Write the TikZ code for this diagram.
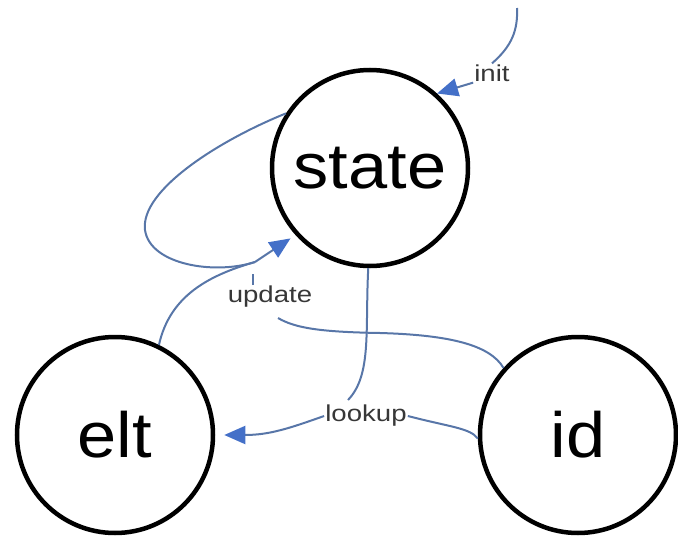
\documentclass[tikz,border=0pt]{standalone}
\usepackage{fontspec}
\setmainfont{Liberation Sans}
\newfontfamily\bigfont[FakeStretch=1.1]{Liberation Sans}
\newfontfamily\labfont[FakeStretch=1.2]{Liberation Sans}
\usetikzlibrary{arrows.meta}
\definecolor{edgecol}{RGB}{88,118,168}
\definecolor{tipcol}{RGB}{68,112,200}
\definecolor{labcol}{RGB}{55,55,55}
\tikzset{
  circ/.style={circle,draw=black,line width=4.5pt,minimum size=196pt,inner sep=0pt,font=\bigfont\fontsize{64}{64}\selectfont},
  edge/.style={draw=edgecol,line width=2pt},
  arr/.style={edge,-{Triangle[length=21pt,width=18pt,fill=tipcol,color=tipcol]}},
  lab/.style={inner sep=1pt,text=labcol,font=\labfont\fontsize{23}{23}\selectfont}
}
\begin{document}
\begin{tikzpicture}[x=1pt,y=-1pt]
\useasboundingbox (0,0) rectangle (678,538);
\node[circ] (state) at (370,168) {state};
\node[circ] (elt) at (115,435) {elt};
\node[circ] (id) at (578,435) {id};
\node[lab] (init) at (492,73) {init};
\node[lab] (update) at (270,297) {update};
\node[lab] (lookup) at (366,416) {lookup};
\coordinate (istart) at (517,8);
\coordinate (um) at (255,262);
\coordinate (ue) at (278,318);
\coordinate (lk) at (348,400);
% init
\draw[edge] (istart) .. controls (518,30) and (512,46) .. (init.north);
\draw[arr] (init.south west) -- (state.48);
% self loop and update
\draw[edge] (state.147) .. controls (220,140) and (140,190) .. (145,230)
  .. controls (150,265) and (215,275) .. (um);
\draw[edge] (elt.64) .. controls (170,295) and (210,275) .. (um);
\draw[arr,shorten >=6pt] (um) -- (state.222);
\draw[edge] ([xshift=-17pt]update.north) -- ++(0,-11);
\draw[edge] (id.138) .. controls (490,345) and (450,335) .. (380,333)
  .. controls (320,332) and (295,328) .. (ue);
% lookup
\draw[edge] (state.269) .. controls (365,330) and (372,375) .. (lk);
\draw[edge] (id.182) .. controls (470,428) and (450,427) .. (lookup.east);
\draw[arr,shorten >=9pt] (lookup.west) .. controls (290,428) and (270,435) .. (elt.0);
\end{tikzpicture}
\end{document}
